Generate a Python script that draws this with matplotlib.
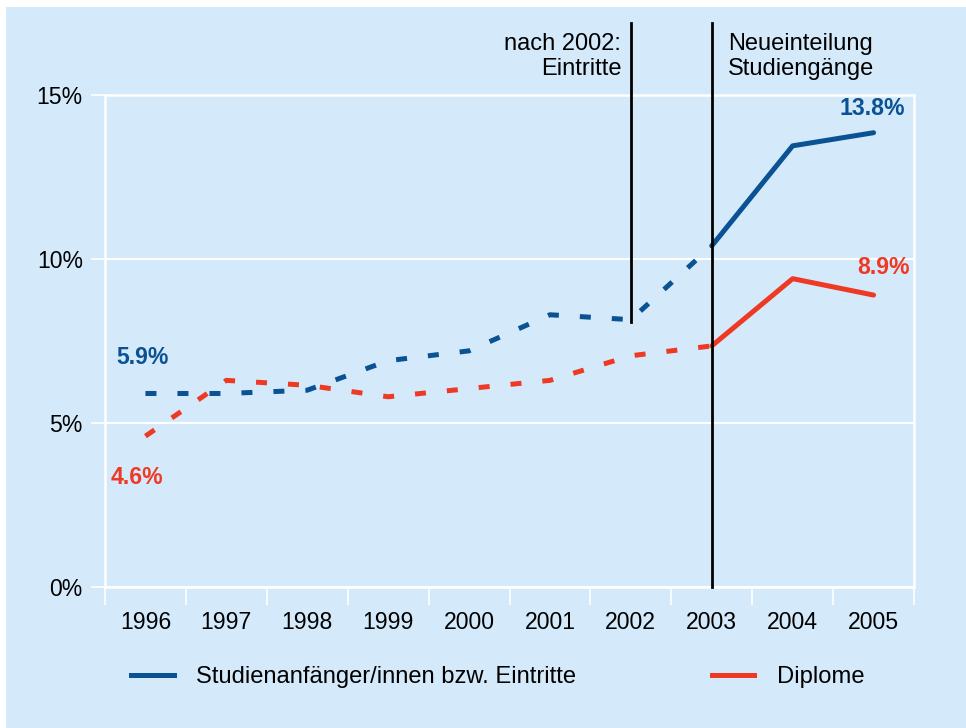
import numpy as np
import matplotlib.pyplot as plt
from matplotlib.patches import Rectangle
from matplotlib.lines import Line2D

plt.rcParams['font.family'] = ['Liberation Sans', 'DejaVu Sans']

years = [1996, 1997, 1998, 1999, 2000, 2001, 2002, 2003, 2004, 2005]
eintritte = [5.9, 5.9, 6.0, 6.9, 7.2, 8.3, 8.15, 10.4, 13.45, 13.85]
diplome = [4.6, 6.3, 6.15, 5.8, 6.05, 6.3, 7.05, 7.35, 9.4, 8.9]
ytick_vals = [0, 5, 10, 15]
ytick_labels = ['0%', '5%', '10%', '15%']

blue = '#0A5293'
red = '#EE3A24'
bg = '#D4EAFB'
fs = 16.6

fig = plt.figure(figsize=(9.66, 7.28), dpi=100, facecolor='white')
fig.patches.append(Rectangle((6 / 966, 0), 1, 1 - 7 / 728, transform=fig.transFigure,
                             facecolor=bg, edgecolor='none', zorder=-5))
ax = fig.add_axes([105 / 966, 141 / 728, 809 / 966, 492 / 728])
ax.set_facecolor(bg)

# split: dashed up to 2003, solid after
k = years.index(2003)
lw = 3.6
for vals, col in [(eintritte, blue), (diplome, red)]:
    l, = ax.plot(years[:k + 1], vals[:k + 1], color=col, lw=lw, zorder=3)
    l.set_dashes((2.2, 4.2))
    ax.plot(years[k:], vals[k:], color=col, lw=lw, solid_capstyle='round', zorder=3)

ax.set_xlim(1995.5, 2005.5)
ax.set_ylim(0, 15)
ax.set_yticks(ytick_vals)
ax.set_yticklabels(ytick_labels)
ax.set_xticks(years)
ax.set_xticks(np.arange(1995.5, 2006, 1), minor=True)
ax.tick_params(axis='x', which='major', length=0, pad=17.5, labelsize=fs)
ax.tick_params(axis='x', which='minor', length=13, width=1.2, color='white', direction='out')
ax.tick_params(axis='y', length=10, width=1.2, color='white', pad=6, labelsize=fs)
ax.grid(axis='y', color='white', lw=1.5, zorder=1)
for s in ['left', 'right', 'bottom', 'top']:
    ax.spines[s].set_color('white')
    ax.spines[s].set_linewidth(1.8)

# vertical markers
ax.plot([2002, 2002], [8.08, 17.2], color='black', lw=2, clip_on=False, zorder=4)
ax.plot([2003, 2003], [0, 17.2], color='black', lw=2, clip_on=False, zorder=4)
ax.text(2001.88, 16.9, 'nach 2002:\nEintritte', ha='right', va='top', fontsize=17,
        linespacing=1.2)
ax.text(2003.2, 16.9, 'Neueinteilung\nStudiengänge', ha='left', va='top', fontsize=17,
        linespacing=1.2)

# value labels
ax.text(1995.96, 7.0, '5.9%', color=blue, fontsize=fs, fontweight='bold', ha='center', va='center')
ax.text(1995.9, 3.35, '4.6%', color=red, fontsize=fs, fontweight='bold', ha='center', va='center')
ax.text(2005.39, 14.6, '13.8%', color=blue, fontsize=fs, fontweight='bold', ha='right', va='center')
ax.text(2005.45, 9.73, '8.9%', color=red, fontsize=fs, fontweight='bold', ha='right', va='center')

handles = [Line2D([], [], color=blue, lw=lw), Line2D([], [], color=red, lw=lw)]
fig.legend(handles, ['Studienanfänger/innen bzw. Eintritte', 'Diplome'], ncol=2,
           loc='center left', bbox_to_anchor=(131 / 966, 1 - 677 / 728), frameon=False,
           fontsize=17.1, handlelength=1.8, handletextpad=0.95, columnspacing=5.7,
           borderpad=0, borderaxespad=0)

fig.savefig('out.png', dpi=100, facecolor='white')
